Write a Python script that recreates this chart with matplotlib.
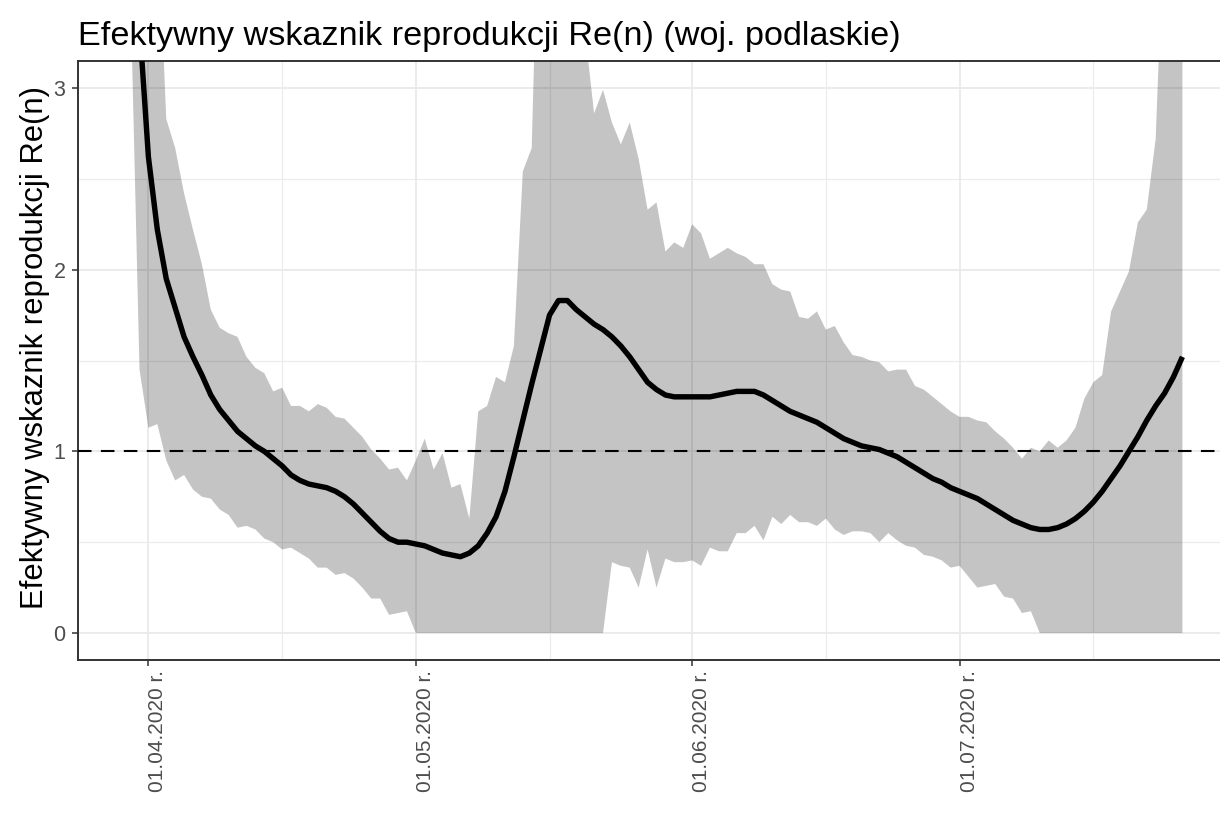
import numpy as np
import matplotlib
matplotlib.use("Agg")
import matplotlib.pyplot as plt
import matplotlib.dates as mdates

plt.rcParams['font.family'] = ['Liberation Sans', 'DejaVu Sans']

title = "Efektywny wskaznik reprodukcji Re(n) (woj. podlaskie)"
ylabel = "Efektywny wskaznik reprodukcji Re(n)"

start_date = "2020-03-30"
end_date = "2020-07-26"

re_mean = [4.6, 3.35, 2.62, 2.22, 1.95, 1.79, 1.63, 1.52, 1.42, 1.31,
           1.23, 1.17, 1.11, 1.07, 1.03, 1.00, 0.96, 0.92, 0.87, 0.84,
           0.82, 0.81, 0.80, 0.78, 0.75, 0.71, 0.66, 0.61, 0.56, 0.52,
           0.50, 0.50, 0.49, 0.48, 0.46, 0.44, 0.43, 0.42, 0.44, 0.48,
           0.55, 0.64, 0.78, 0.97, 1.17, 1.37, 1.56, 1.75, 1.83, 1.83,
           1.78, 1.74, 1.70, 1.67, 1.63, 1.58, 1.52, 1.45, 1.38, 1.34,
           1.31, 1.30, 1.30, 1.30, 1.30, 1.30, 1.31, 1.32, 1.33, 1.33,
           1.33, 1.31, 1.28, 1.25, 1.22, 1.20, 1.18, 1.16, 1.13, 1.10,
           1.07, 1.05, 1.03, 1.02, 1.01, 0.99, 0.97, 0.94, 0.91, 0.88,
           0.85, 0.83, 0.80, 0.78, 0.76, 0.74, 0.71, 0.68, 0.65, 0.62,
           0.60, 0.58, 0.57, 0.57, 0.58, 0.60, 0.63, 0.67, 0.72, 0.78,
           0.85, 0.92, 1.00, 1.08, 1.17, 1.25, 1.32, 1.41, 1.52]

re_upper = [10.0, 7.0, 5.0, 4.0, 2.83, 2.67, 2.42, 2.22, 2.03, 1.78,
            1.68, 1.65, 1.63, 1.52, 1.46, 1.43, 1.33, 1.35, 1.25, 1.25,
            1.22, 1.26, 1.24, 1.19, 1.18, 1.13, 1.08, 1.01, 0.96, 0.90,
            0.91, 0.84, 0.95, 1.07, 0.90, 0.99, 0.80, 0.82, 0.63, 1.22,
            1.25, 1.41, 1.38, 1.58, 2.54, 2.67, 4.5, 4.0, 5.0, 4.5,
            3.8, 3.3, 2.86, 2.99, 2.81, 2.69, 2.81, 2.61, 2.33, 2.37,
            2.10, 2.15, 2.12, 2.25, 2.20, 2.06, 2.09, 2.12, 2.09, 2.07,
            2.03, 2.03, 1.92, 1.89, 1.88, 1.74, 1.73, 1.77, 1.67, 1.69,
            1.60, 1.53, 1.52, 1.50, 1.49, 1.44, 1.45, 1.45, 1.36, 1.34,
            1.30, 1.26, 1.22, 1.19, 1.19, 1.17, 1.16, 1.11, 1.07, 1.02,
            0.96, 1.02, 1.00, 1.06, 1.02, 1.06, 1.13, 1.29, 1.38, 1.42,
            1.77, 1.88, 1.99, 2.26, 2.33, 2.72, 4.0, 6.0, 8.0]

re_lower = [3.5, 1.45, 1.13, 1.15, 0.95, 0.84, 0.87, 0.79, 0.75, 0.74,
            0.68, 0.65, 0.58, 0.59, 0.57, 0.52, 0.50, 0.46, 0.47, 0.44,
            0.41, 0.36, 0.36, 0.32, 0.33, 0.30, 0.25, 0.19, 0.19, 0.10,
            0.11, 0.12, 0.0, 0.0, 0.0, 0.0, 0.0, 0.0, 0.0, 0.0,
            0.0, 0.0, 0.0, 0.0, 0.0, 0.0, 0.0, 0.0, 0.0, 0.0,
            0.0, 0.0, 0.0, 0.0, 0.39, 0.37, 0.36, 0.25, 0.46, 0.25,
            0.41, 0.39, 0.39, 0.40, 0.37, 0.47, 0.45, 0.45, 0.55, 0.55,
            0.59, 0.51, 0.64, 0.60, 0.65, 0.61, 0.61, 0.59, 0.63, 0.57,
            0.54, 0.56, 0.56, 0.55, 0.50, 0.55, 0.51, 0.48, 0.47, 0.43,
            0.42, 0.40, 0.36, 0.37, 0.31, 0.25, 0.26, 0.27, 0.20, 0.19,
            0.11, 0.12, 0.0, 0.0, 0.0, 0.0, 0.0, 0.0, 0.0, 0.0,
            0.0, 0.0, 0.0, 0.0, 0.0, 0.0, 0.0, 0.0, 0.0]

x_ticks = ["2020-04-01", "2020-05-01", "2020-06-01", "2020-07-01"]
x_tick_labels = ["01.04.2020 r.", "01.05.2020 r.", "01.06.2020 r.", "01.07.2020 r."]
x_minor = ["2020-04-16", "2020-05-16", "2020-06-16", "2020-07-16"]
y_ticks = [0, 1, 2, 3]
y_minor = [0.5, 1.5, 2.5]
threshold = 1.0

dates = np.arange(np.datetime64(start_date), np.datetime64(end_date) + 1, dtype="datetime64[D]")
assert len(dates) == len(re_mean) == len(re_upper) == len(re_lower)

W, H = 1220, 815
fig = plt.figure(figsize=(W / 100, H / 100), dpi=100)
ax = fig.add_axes([78 / W, 1 - 660.3 / H, (1235 - 78) / W, (660.3 - 60.7) / H])

ax.fill_between(dates, re_lower, re_upper, color="black", alpha=0.23, linewidth=0, zorder=2)
ax.plot(dates, re_mean, color="black", lw=3.9, zorder=3, solid_capstyle="butt", solid_joinstyle="round")
ax.axhline(threshold, color="black", lw=1.5, dashes=(6.5, 4.5), zorder=4)

d0 = np.datetime64(start_date)
d1 = np.datetime64(end_date)
span = (d1 - d0).astype(float)
ax.set_xlim(mdates.date2num(d0) - 0.05 * span, mdates.date2num(d1) + 0.05 * span)
ax.set_ylim(-0.15, 3.15)

ax.set_xticks(mdates.date2num(np.array(x_ticks, dtype="datetime64[D]")))
ax.set_xticklabels(x_tick_labels, rotation=90, ha="left", va="top", fontsize=15, color="#4D4D4D")
ax.set_xticks(mdates.date2num(np.array(x_minor, dtype="datetime64[D]")), minor=True)
ax.set_yticks(y_ticks)
ax.set_yticklabels([str(v) for v in y_ticks], fontsize=15.5, color="#4D4D4D")
ax.set_yticks(y_minor, minor=True)

ax.grid(True, which="major", color="#EBEBEB", lw=1.4, zorder=0)
ax.grid(True, which="minor", color="#EBEBEB", lw=0.8, zorder=0)
ax.set_axisbelow(True)
ax.tick_params(which="major", length=4, width=1.1, color="#333333")
ax.tick_params(axis="x", which="major", pad=3)
ax.tick_params(axis="y", which="major", pad=5)
ax.tick_params(which="minor", length=0)
for s in ax.spines.values():
    s.set_color("#333333")
    s.set_linewidth(1.4)

fig.text(78 / W, 1 - 45 / H, title, fontsize=24.7, ha="left", va="baseline", color="black")
fig.text(35 / W, 1 - 348 / H, ylabel, fontsize=22.3, rotation=90, ha="center", va="center", color="black")

fig.savefig("out.png", dpi=100, facecolor="white")
